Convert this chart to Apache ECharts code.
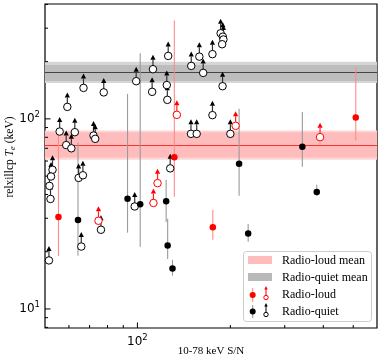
<!DOCTYPE html>
<html><head><meta charset="utf-8">
<script src="https://cdn.jsdelivr.net/npm/echarts@6/dist/echarts.min.js"></script>
<style>html,body{margin:0;padding:0;background:#fff}#c{width:382px;height:361px}</style>
</head><body><div id="c"></div>
<script>
// ---- data ----
const rlDetX  = [55.5, 131.7, 175.5, 509.6];
const rlDetY  = [30.5, 62.9, 26.9, 101.6];
const rlDetLo = [19.0, 38.9, 23.1, 76.9];
const rlDetHi = [85.5, 329, 33.2, 186.9];

const rlLimX = [74.8, 112.7, 116.2, 134.2, 208.0, 390.4];
const rlLimY = [29.1, 36.1, 45.9, 105.0, 91.9, 80.1];

const rqDetX  = [64.2, 92.9, 102.1, 123.9, 125.3, 129.9, 213.5, 228.4, 342.1, 380.9];
const rqDetY  = [29.4, 38.0, 35.6, 36.9, 21.6, 16.3, 58.0, 24.95, 71.3, 41.2];
const rqDetLo = [19.05, 25.2, 21.25, 28.7, 18.3, 14.96, 39.4, 22.6, 56.0, 39.4];
const rqDetHi = [74.8, 135.3, 221.4, 47.8, 29.8, 18.15, 112.9, 28.0, 108.8, 45.0];

const rqLimX = [53.1, 52.5, 51.9, 52.3, 51.7, 56.0, 58.8, 61.1, 62.7, 59.3, 66.9, 77.8, 72.1, 73.0, 64.5, 66.6, 65.8, 76.2, 98.0, 99.1, 112.3, 111.6, 124.5, 125.0, 125.8, 127.7, 149.4, 158.7, 163.3, 175.0, 186.0, 189.1, 189.9, 188.1, 188.7, 175.0, 149.1, 155.6, 200.0];
const rqLimY = [53.95, 49.75, 44.4, 37.9, 18.0, 85.75, 72.8, 70.0, 85.1, 115.6, 145.5, 137.8, 81.7, 78.5, 48.9, 50.5, 21.3, 26.1, 34.6, 157.8, 182.5, 138.7, 150.6, 125.9, 214.3, 54.9, 189.9, 212.5, 174.5, 219.0, 282.0, 270.6, 261.6, 246.9, 148.5, 104.6, 83.4, 83.4, 83.4];

const rlMean = 72.8, rlBandIn = [62.6, 85.1], rlBandOut = [60.9, 86.8];
const rqMean = 175,  rqBandIn = [158, 192],   rqBandOut = [154.6, 199.5];

const xRange = [50.2, 597];
const yRange = [7.94, 402];
const xTicksMajor = [100];
const xTicksMinor = [60, 70, 80, 90, 200, 300, 400, 500];
const yTicksMajor = [10, 100];
const yTicksMinor = [8, 9, 20, 30, 40, 50, 60, 70, 80, 90, 200, 300, 400];

// ---- chart ----
const chart = echarts.init(document.getElementById('c'), null, {renderer: 'canvas'});
const zip2 = (a, b) => a.map((v, i) => [v, b[i]]);
const zip3 = (a, b, c) => a.map((v, i) => [v, b[i], c[i]]);

function labelFmt(v) {
  const l = Math.log10(v), e = Math.round(l);
  if (Math.abs(l - e) > 1e-6) return '';
  return '{b|10}{s|' + e + '}';
}
const labRich = {
  b: {fontFamily: 'DejaVu Sans', fontSize: 12, color: '#000'},
  s: {fontFamily: 'DejaVu Sans', fontSize: 8.5, color: '#000', padding: [0, 0, 8, 0]}
};

function errRender(color) {
  return function (params, api) {
    const x = api.value(0);
    const a = api.coord([x, api.value(1)]);
    const b = api.coord([x, api.value(2)]);
    return {type: 'line', shape: {x1: a[0], y1: a[1], x2: b[0], y2: b[1]},
      style: {stroke: color, lineWidth: 1.1}};
  };
}
function arrowRender(shaft, head) {
  return function (params, api) {
    const p = api.coord([api.value(0), api.value(1)]);
    const L = 14.5, hw = 2.6, hh = 5;
    return {type: 'group', children: [
      {type: 'line', shape: {x1: p[0], y1: p[1], x2: p[0], y2: p[1] - L + hh}, style: {stroke: shaft, lineWidth: 1.2}},
      {type: 'polygon', shape: {points: [[p[0], p[1] - L], [p[0] - hw, p[1] - L + hh], [p[0] + hw, p[1] - L + hh]]}, style: {fill: head}}
    ]};
  };
}
function xTickRender(len) {
  return function (params, api) {
    const p = api.coord([api.value(0), yRange[0]]);
    return {type: 'line', shape: {x1: p[0], y1: p[1], x2: p[0], y2: p[1] - len}, style: {stroke: '#000', lineWidth: 1}};
  };
}
function yTickRender(len) {
  return function (params, api) {
    const p = api.coord([xRange[0], api.value(1)]);
    return {type: 'line', shape: {x1: p[0], y1: p[1], x2: p[0] + len, y2: p[1]}, style: {stroke: '#000', lineWidth: 1}};
  };
}

const serifF = 'Liberation Serif';
const legendEls = [
  {type: 'rect', shape: {x: 243.5, y: 251.5, width: 128, height: 70, r: 3}, style: {fill: 'rgba(255,255,255,0.85)', stroke: '#cccccc', lineWidth: 1}},
  {type: 'rect', shape: {x: 248, y: 256, width: 24, height: 8}, style: {fill: '#ffbcbc'}},
  {type: 'rect', shape: {x: 248, y: 273, width: 24, height: 8}, style: {fill: '#b9b9b9'}},
  {type: 'line', shape: {x1: 252.7, y1: 288, x2: 252.7, y2: 302}, style: {stroke: '#ff8c8c', lineWidth: 1.1}},
  {type: 'circle', shape: {cx: 252.7, cy: 295, r: 3}, style: {fill: '#ff0000'}},
  {type: 'line', shape: {x1: 266, y1: 296, x2: 266, y2: 289}, style: {stroke: '#ff0000', lineWidth: 1}},
  {type: 'polygon', shape: {points: [[266, 286], [264.3, 289.5], [267.7, 289.5]]}, style: {fill: '#ff0000'}},
  {type: 'circle', shape: {cx: 266, cy: 297.5, r: 2.2}, style: {fill: '#fff', stroke: '#ff0000', lineWidth: 1}},
  {type: 'line', shape: {x1: 252.7, y1: 305, x2: 252.7, y2: 318}, style: {stroke: '#999', lineWidth: 1.1}},
  {type: 'circle', shape: {cx: 252.7, cy: 311.5, r: 3}, style: {fill: '#000'}},
  {type: 'line', shape: {x1: 266, y1: 313, x2: 266, y2: 306}, style: {stroke: '#000', lineWidth: 1}},
  {type: 'polygon', shape: {points: [[266, 303], [264.3, 306.5], [267.7, 306.5]]}, style: {fill: '#000'}},
  {type: 'circle', shape: {cx: 266, cy: 314.5, r: 2.2}, style: {fill: '#fff', stroke: '#000', lineWidth: 1}},
  {type: 'text', x: 282, y: 260.5, style: {text: 'Radio-loud mean', font: '12px "Liberation Serif"', fill: '#000', verticalAlign: 'middle'}},
  {type: 'text', x: 282, y: 277.5, style: {text: 'Radio-quiet mean', font: '12px "Liberation Serif"', fill: '#000', verticalAlign: 'middle'}},
  {type: 'text', x: 282, y: 294.5, style: {text: 'Radio-loud', font: '12px "Liberation Serif"', fill: '#000', verticalAlign: 'middle'}},
  {type: 'text', x: 282, y: 311.5, style: {text: 'Radio-quiet', font: '12px "Liberation Serif"', fill: '#000', verticalAlign: 'middle'}}
];

const option = {
  animation: false,
  backgroundColor: '#fff',
  grid: {left: 45, right: 5, top: 4, bottom: 33, show: true, borderColor: '#000', borderWidth: 1.2, backgroundColor: 'transparent'},
  xAxis: {type: 'log', logBase: 10, min: xRange[0], max: xRange[1],
    axisLine: {show: false}, axisTick: {show: false}, splitLine: {show: false}, minorTick: {show: false},
    axisLabel: {formatter: labelFmt, rich: labRich, margin: 5, showMinLabel: false, showMaxLabel: false}},
  yAxis: {type: 'log', logBase: 10, min: yRange[0], max: yRange[1],
    axisLine: {show: false}, axisTick: {show: false}, splitLine: {show: false}, minorTick: {show: false},
    axisLabel: {formatter: labelFmt, rich: labRich, margin: 5, showMinLabel: false, showMaxLabel: false}},
  graphic: [
    {type: 'text', x: 211, y: 351, style: {text: '10-78 keV S/N', font: '11px "Liberation Serif"', fill: '#000', align: 'center', verticalAlign: 'middle'}},
    {type: 'text', x: 10, y: 157, rotation: Math.PI / 2, style: {
      text: '{n|relxillcp }{i|T}{sub|e}{n| (keV)}', align: 'center', verticalAlign: 'middle',
      rich: {n: {fontFamily: serifF, fontSize: 11.5, fill: '#000'},
             i: {fontFamily: serifF, fontStyle: 'italic', fontSize: 11.5, fill: '#000'},
             sub: {fontFamily: serifF, fontStyle: 'italic', fontSize: 8.5, fill: '#000', padding: [5, 0, 0, 0]}}}},
    {type: 'group', z: 100, children: legendEls}
  ],
  series: [
    {type: 'line', data: [], silent: true, z: 1,
      markArea: {silent: true, itemStyle: {color: '#d6d6d6'}, data: [[{yAxis: rqBandOut[0]}, {yAxis: rqBandOut[1]}]]}},
    {type: 'line', data: [], silent: true, z: 1,
      markArea: {silent: true, itemStyle: {color: '#bdbdbd'}, data: [[{yAxis: rqBandIn[0]}, {yAxis: rqBandIn[1]}]]}},
    {type: 'line', data: [], silent: true, z: 1,
      markArea: {silent: true, itemStyle: {color: '#ffd6d6'}, data: [[{yAxis: rlBandOut[0]}, {yAxis: rlBandOut[1]}]]}},
    {type: 'line', data: [], silent: true, z: 1,
      markArea: {silent: true, itemStyle: {color: '#ffbcbc'}, data: [[{yAxis: rlBandIn[0]}, {yAxis: rlBandIn[1]}]]}},
    {type: 'line', data: [], silent: true, z: 2,
      markLine: {silent: true, symbol: 'none', label: {show: false}, lineStyle: {color: '#444', width: 1, type: 'solid'},
        data: [{yAxis: rqMean}]}},
    {type: 'line', data: [], silent: true, z: 2,
      markLine: {silent: true, symbol: 'none', label: {show: false}, lineStyle: {color: '#ff3030', width: 1, type: 'solid'},
        data: [{yAxis: rlMean}]}},
    // ticks
    {type: 'custom', silent: true, z: 20, renderItem: xTickRender(5.5), data: xTicksMajor.map(v => [v, yRange[0]])},
    {type: 'custom', silent: true, z: 20, renderItem: xTickRender(3), data: xTicksMinor.map(v => [v, yRange[0]])},
    {type: 'custom', silent: true, z: 20, renderItem: yTickRender(5.5), data: yTicksMajor.map(v => [xRange[0], v])},
    {type: 'custom', silent: true, z: 20, renderItem: yTickRender(3), data: yTicksMinor.map(v => [xRange[0], v])},
    // error bars
    {type: 'custom', z: 5, renderItem: errRender('#9a9a9a'), data: zip3(rqDetX, rqDetLo, rqDetHi)},
    {type: 'custom', z: 5, renderItem: errRender('#ff8a8a'), data: zip3(rlDetX, rlDetLo, rlDetHi)},
    // arrows
    {type: 'custom', z: 6, renderItem: arrowRender('#333', '#000'), data: zip2(rqLimX, rqLimY)},
    {type: 'custom', z: 6, renderItem: arrowRender('#ff2020', '#ff0000'), data: zip2(rlLimX, rlLimY)},
    // points
    {type: 'scatter', z: 8, symbol: 'circle', symbolSize: 7.5, data: zip2(rqLimX, rqLimY),
      itemStyle: {color: '#fff', borderColor: '#000', borderWidth: 1, opacity: 1}},
    {type: 'scatter', z: 8, symbol: 'circle', symbolSize: 7.5, data: zip2(rlLimX, rlLimY),
      itemStyle: {color: '#fff', borderColor: '#ff0000', borderWidth: 1, opacity: 1}},
    {type: 'scatter', z: 9, symbol: 'circle', symbolSize: 6.5, data: zip2(rqDetX, rqDetY),
      itemStyle: {color: '#000', opacity: 1}},
    {type: 'scatter', z: 9, symbol: 'circle', symbolSize: 6.5, data: zip2(rlDetX, rlDetY),
      itemStyle: {color: '#ff0000', opacity: 1}}
  ]
};
chart.setOption(option);
</script>
</body></html>
